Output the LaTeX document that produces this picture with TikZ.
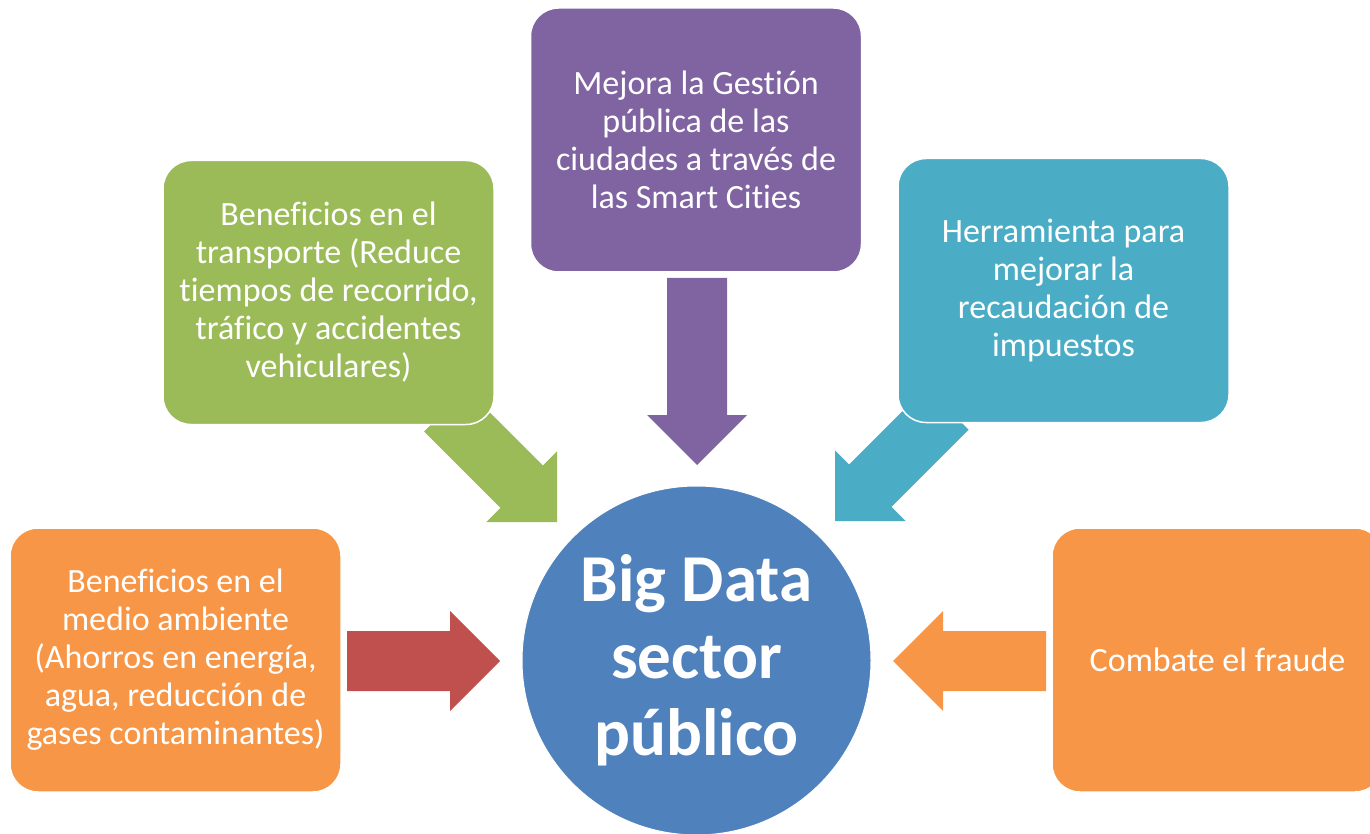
\documentclass[tikz,border=0pt]{standalone}
\usepackage{fontspec}
\setmainfont{Carlito}[Ligatures=NoCommon,RawFeature={-liga;-clig;-dlig}]
\definecolor{cpurple}{HTML}{8064A2}
\definecolor{cgreen}{HTML}{9BBB59}
\definecolor{cteal}{HTML}{4BACC6}
\definecolor{corange}{HTML}{F79646}
\definecolor{cred}{HTML}{C0504D}
\definecolor{cblue}{HTML}{4F81BD}
\tikzset{
  box/.style={rectangle, rounded corners=28pt, minimum width=331pt, minimum height=264pt,
    draw=white, line width=1.5pt, text=white, align=center, inner sep=0pt,
    font=\fontsize{34}{38}\selectfont},
  hub/.style={circle, minimum size=349pt, fill=cblue, draw=white, line width=1pt,
    text=white, align=center, inner sep=0pt, font=\fontsize{67}{77}\selectfont\bfseries},
}
\newcommand{\blockarrow}[5]{%
  \begin{scope}[shift={(#1,#2)}, rotate=#3]
    \fill[#5] (0,0) -- (-50,50) -- (-50,30) -- (-50-#4,30) -- (-50-#4,-30)
      -- (-50,-30) -- (-50,-50) -- cycle;
  \end{scope}}
\begin{document}
\begin{tikzpicture}[x=1pt,y=-1pt]
\useasboundingbox (0,0) rectangle (1370,834);
\clip (0,0) rectangle (1370,834);
% block arrows
\blockarrow{697}{465}{-90}{137}{cpurple}
\blockarrow{500}{661}{0}{103}{cred}
\blockarrow{893}{661}{180}{103}{corange}
\blockarrow{557}{522}{-45}{108}{cgreen}
\blockarrow{835}{521}{-135}{109}{cteal}
% boxes
\node[box, fill=cpurple] (gestion) at (696,140) {Mejora la Gestión\\pública de las\\ciudades a través de\\las Smart Cities};
\node[box, fill=cgreen] (transporte) at (328.5,292.5) {Beneficios en el\\transporte (Reduce\\tiempos de recorrido,\\tráfico y accidentes\\vehiculares)};
\node[box, fill=cteal] (impuestos) at (1063.5,290.5) {Herramienta para\\mejorar la\\recaudación de\\impuestos};
\node[box, fill=corange] (ambiente) at (175.5,660) {Beneficios en el\\medio ambiente\\(Ahorros en energía,\\agua, reducción de\\gases contaminantes)};
\node[box, fill=corange] (fraude) at (1217.5,660) {Combate el fraude};
% hub
\node[hub] (bigdata) at (696.5,660.5) {Big Data\\sector\\público};
\end{tikzpicture}
\end{document}
